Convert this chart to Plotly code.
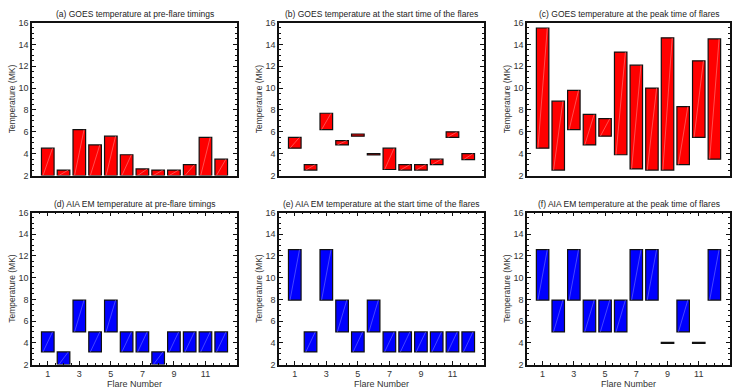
import plotly.graph_objects as go

flares = list(range(1, 13))

# GOES temperatures (MK)
goes_pre_high = [4.5, 2.5, 6.2, 4.8, 5.6, 3.9, 2.6, 2.5, 2.5, 3.0, 5.5, 3.5]
goes_pre_low = [2.0] * 12
goes_start_low = [4.5, 2.5, 6.2, 4.8, 5.6, 3.88, 2.55, 2.5, 2.5, 3.0, 5.5, 3.45]
goes_start_high = [5.5, 3.0, 7.7, 5.2, 5.8, 4.0, 4.5, 3.0, 3.0, 3.5, 6.0, 4.0]
goes_peak_low = [4.5, 2.5, 6.2, 4.8, 5.6, 3.9, 2.6, 2.5, 2.5, 3.0, 5.5, 3.5]
goes_peak_high = [15.5, 8.8, 9.8, 7.6, 7.2, 13.3, 12.1, 10.0, 14.6, 8.3, 12.5, 14.5]

# AIA EM temperature bins (MK)
aia_pre_low = [3.16, 2.0, 5.01, 3.16, 5.01, 3.16, 3.16, 2.0, 3.16, 3.16, 3.16, 3.16]
aia_pre_high = [5.01, 3.16, 7.94, 5.01, 7.94, 5.01, 5.01, 3.16, 5.01, 5.01, 5.01, 5.01]
aia_start_low = [7.94, 3.16, 7.94, 5.01, 3.16, 5.01, 3.16, 3.16, 3.16, 3.16, 3.16, 3.16]
aia_start_high = [12.59, 5.01, 12.59, 7.94, 5.01, 7.94, 5.01, 5.01, 5.01, 5.01, 5.01, 5.01]
aia_peak_low = [7.94, 5.01, 7.94, 5.01, 5.01, 5.01, 7.94, 7.94, 3.96, 5.01, 3.96, 7.94]
aia_peak_high = [12.59, 7.94, 12.59, 7.94, 7.94, 7.94, 12.59, 12.59, 4.04, 7.94, 4.04, 12.59]

titles = [
    "(a) GOES temperature at pre-flare timings",
    "(b) GOES temperature at the start time of the flares",
    "(c) GOES temperature at the peak time of flares",
    "(d) AIA EM temperature at pre-flare timings",
    "(e) AIA EM temperature at the start time of the flares",
    "(f) AIA EM temperature at the peak time of flares",
]
panels = [
    (goes_pre_low, goes_pre_high, "#ff0000", "rgba(255,160,160,0.7)"),
    (goes_start_low, goes_start_high, "#ff0000", "rgba(255,160,160,0.7)"),
    (goes_peak_low, goes_peak_high, "#ff0000", "rgba(255,160,160,0.7)"),
    (aia_pre_low, aia_pre_high, "#0000ff", "rgba(140,140,255,0.7)"),
    (aia_start_low, aia_start_high, "#0000ff", "rgba(140,140,255,0.7)"),
    (aia_peak_low, aia_peak_high, "#0000ff", "rgba(140,140,255,0.7)"),
]

W, H = 732, 391
xdom_px = [(32, 237), (279, 484), (527, 730)]
ydom_px = [(18, 175), (213, 369)]

fig = go.Figure()
font = "Liberation Sans, Arial, sans-serif"
layout = dict(
    width=W, height=H, margin=dict(l=0, r=0, t=0, b=0),
    plot_bgcolor="white", paper_bgcolor="white", showlegend=False,
    barmode="overlay", font=dict(family=font, size=9, color="#333"),
    annotations=[],
)

for i, (lo, hi, col, diag) in enumerate(panels):
    r, c = divmod(i, 3)
    n = i + 1
    xa = "x" if n == 1 else f"x{n}"
    ya = "y" if n == 1 else f"y{n}"
    heights = [h - l for l, h in zip(lo, hi)]
    fig.add_trace(go.Bar(
        x=flares, y=heights, base=lo, width=0.8,
        marker=dict(color=col, line=dict(color="#111", width=1.2)),
        xaxis=xa, yaxis=ya,
    ))
    # faint diagonal line inside each bar
    for f, l, h in zip(flares, lo, hi):
        if h - l > 0.3:
            fig.add_trace(go.Scatter(
                x=[f - 0.3, f + 0.3], y=[l, h], mode="lines",
                line=dict(color=diag, width=0.7), hoverinfo="skip",
                xaxis=xa, yaxis=ya,
            ))
    x0, x1 = xdom_px[c]
    y0, y1 = ydom_px[r]
    bottom = r == 1
    xkey = "xaxis" if n == 1 else f"xaxis{n}"
    ykey = "yaxis" if n == 1 else f"yaxis{n}"
    layout[xkey] = dict(
        domain=[x0 / W, x1 / W], range=[0, 13], anchor=ya,
        showgrid=False, zeroline=False, showline=True, linecolor="#111",
        linewidth=1.5, mirror="ticks" if bottom else True,
        ticks="inside" if bottom else "", ticklen=4, tickcolor="#111",
        tickvals=[1, 3, 5, 7, 9, 11] if bottom else [],
        showticklabels=bottom, tickfont=dict(size=9, color="#333"),
        minor=dict(dtick=0.5, tick0=0, ticks="inside", ticklen=2, tickcolor="#111") if bottom else None,
        title=dict(text="Flare Number", font=dict(size=9, color="#333"), standoff=2) if bottom else None,
        fixedrange=True,
    )
    layout[ykey] = dict(
        domain=[1 - y1 / H, 1 - y0 / H], range=[2, 16], anchor=xa,
        showgrid=False, zeroline=False, showline=True, linecolor="#111",
        linewidth=1.5, mirror="ticks", ticks="inside", ticklen=4, tickcolor="#111",
        dtick=2, tick0=2, tickfont=dict(size=9, color="#333"),
        minor=dict(dtick=0.5, ticks="inside", ticklen=2, tickcolor="#111"),
        title=dict(text="Temperature (MK)", font=dict(size=8.5, color="#333"), standoff=1),
        fixedrange=True,
    )
    layout["annotations"].append(dict(
        text=titles[i], x=(x0 + x1) / 2 / W, y=1 - (y0 - 9) / H,
        xref="paper", yref="paper", showarrow=False,
        font=dict(size=8.5, color="#222"), xanchor="center", yanchor="middle",
    ))

fig.update_layout(**layout)
fig.write_html("out.html", config={"displayModeBar": False},
               post_script="document.body.style.margin='0px';document.body.style.overflow='hidden';")
